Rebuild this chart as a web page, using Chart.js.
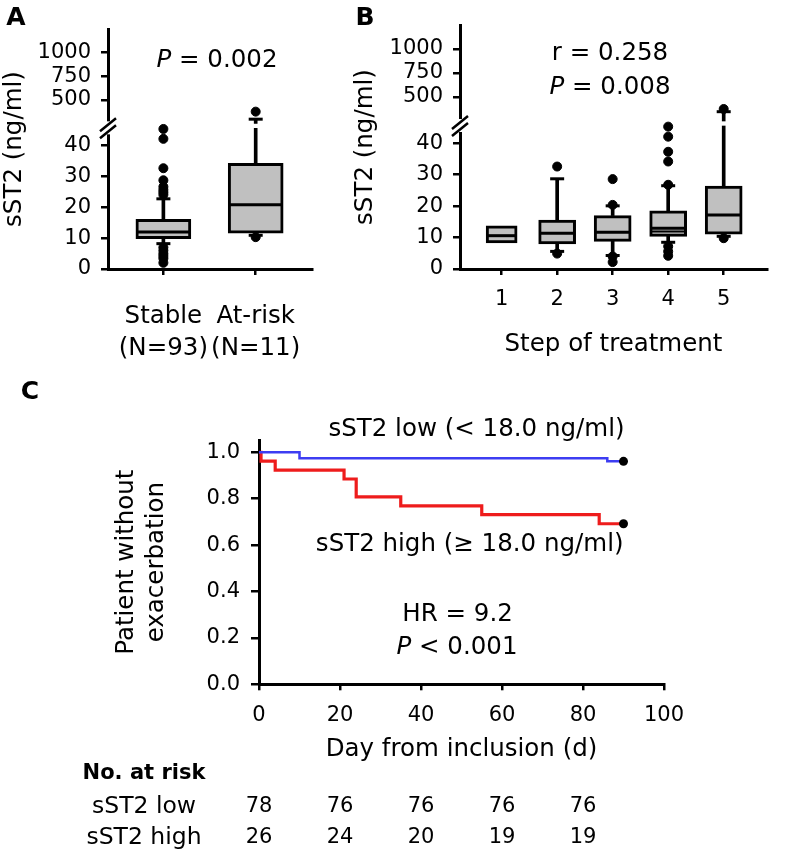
<!DOCTYPE html>
<html>
<head>
<meta charset="utf-8">
<script src="https://cdn.jsdelivr.net/npm/chart.js@4.4.1/dist/chart.umd.min.js"></script>
<style>
  html, body { margin: 0; padding: 0; background: #fff; }
  #figure { position: relative; width: 787px; height: 854px; overflow: hidden; }
  .panel { position: absolute; }
</style>
</head>
<body>
<div id="figure">
  <canvas class="panel" id="chartA" width="390" height="370" style="left:0;top:0"></canvas>
  <canvas class="panel" id="chartB" width="442" height="370" style="left:345px;top:0"></canvas>
  <canvas class="panel" id="chartC" width="787" height="474" style="left:0;top:380px"></canvas>
</div>
<script>
// ---- panel A: sST2 by clinical status ----
const groupsA = ['Stable', 'At-risk'];
const groupSizeA = ['(N=93)', '(N=11)'];
const q1A = [9.8, 11.6];
const medA = [12.0, 20.8];
const q3A = [16.1, 34.2];
const whiskerLowA = [8.2, 10.9];
const whiskerHighA = [22.7, 295];
const outliersA = [
  [45.3, 42.1, 32.6, 28.7, 26.6, 25.6, 24.8, 24.0, 7.0, 6.0, 5.0, 4.2, 3.4, 2.0],
  [375, 10.3]
];

// ---- panel B: sST2 by step of treatment ----
const stepsB = ['1', '2', '3', '4', '5'];
const q1B = [8.3, 8.0, 8.8, 10.4, 11.1];
const medB = [10.6, 11.4, 11.7, 13.0, 17.2];
const meanB = [null, null, null, 11.9, null];
const q3B = [13.7, 15.6, 17.0, 18.5, 26.4];
const whiskerLowB = [null, 5.6, 4.3, 8.5, 10.4];
const whiskerHighB = [null, 28.7, 20.1, 26.5, 347];
const outliersB = [
  [],
  [32.6, 4.9],
  [28.6, 20.4, 4.0, 2.2],
  [45.3, 42.1, 37.3, 34.2, 26.8, 7.2, 5.6, 4.2],
  [375, 9.8]
];

// broken y axis: tick labels of both segments
const lowerTicks = [0, 10, 20, 30, 40];
const upperTicks = [500, 750, 1000];

// ---- panel C: Kaplan-Meier ----
const daysLow = [0, 10, 86, 90];
const survLow = [1.0, 0.974, 0.961, 0.961];
const daysHigh = [0, 0.5, 4, 21, 24, 35, 55, 84, 90];
const survHigh = [1.0, 0.962, 0.923, 0.885, 0.808, 0.769, 0.731, 0.692, 0.692];
const dayTicks = [0, 20, 40, 60, 80, 100];
const survTicks = [0, 0.2, 0.4, 0.6, 0.8, 1.0];
const riskDays = [0, 20, 40, 60, 80];
const riskLow = [78, 76, 76, 76, 76];
const riskHigh = [26, 24, 20, 19, 19];

const FONT = '"DejaVu Sans", sans-serif';
Chart.defaults.font.family = FONT;
Chart.defaults.color = '#000';

const LOWER_TOP = 45.5;      // top of the lower segment
const UPPER_BOTTOM = 198;    // bottom of the upper segment
const UPPER_TOP = 1250;
const UPPER_START = 250;     // where marks resume above the break

const axisGrid = { drawOnChartArea: false, color: '#000', lineWidth: 2.5, tickLength: 7 };
const axisBorder = { color: '#000', width: 3 };

function boxplotDatasets(q1, med, q3, lo, hi, outs, widths, means) {
  const sets = [];
  const whiskUp = [], whiskDown = [], whiskBroken = [];
  const capsLow = [], capsHigh = [], dotsLow = [], dotsHigh = [];
  const medians = [], meanPts = [];
  q1.forEach((v, i) => {
    const x = i + 1;
    sets.push({
      type: 'bar', data: [{ x, y: [q1[i], q3[i]] }], yAxisID: 'y', clip: false,
      barThickness: widths[i], backgroundColor: '#c0c0c0', borderColor: '#000',
      borderWidth: 3, borderSkipped: false, grouped: false, order: 3
    });
    medians.push({ x, y: med[i] });
    if (means && means[i] != null) meanPts.push({ x, y: means[i] });
    if (hi[i] != null) {
      if (hi[i] > LOWER_TOP) {
        whiskUp.push({ x, y: [q3[i], LOWER_TOP] });
        whiskBroken.push({ x, y: [UPPER_START, hi[i]] });
        capsHigh.push({ x, y: hi[i] });
      } else {
        whiskUp.push({ x, y: [q3[i], hi[i]] });
        capsLow.push({ x, y: hi[i] });
      }
    }
    if (lo[i] != null) {
      whiskDown.push({ x, y: [lo[i], q1[i]] });
      capsLow.push({ x, y: lo[i] });
    }
    outs[i].forEach(o => (o > LOWER_TOP ? dotsHigh : dotsLow).push({ x, y: o }));
  });

  const whisker = (data, axis) => ({
    type: 'bar', data, yAxisID: axis, barThickness: 3, backgroundColor: '#000',
    borderWidth: 0, grouped: false, order: 4, clip: false
  });
  const marks = (data, axis, style, radius, order, bw) => ({
    type: 'line', data, yAxisID: axis, showLine: false, pointStyle: style,
    pointRadius: radius, pointBorderWidth: bw, pointBorderColor: '#000',
    pointBackgroundColor: '#000', order, clip: false
  });
  sets.push(whisker(whiskUp, 'y'), whisker(whiskDown, 'y'), whisker(whiskBroken, 'yu'));
  sets.push(marks(capsLow, 'y', 'line', 7, 2, 3), marks(capsHigh, 'yu', 'line', 7, 2, 3));
  sets.push(marks(medians, 'y', 'line', c => (widths[c.dataIndex] - 3) / 2, 1, 3));
  if (meanPts.length) sets.push(marks(meanPts, 'y', 'line', c => (widths[meanPts[c.dataIndex].x - 1] - 3) / 2, 1, 2));
  sets.push(marks(dotsLow, 'y', 'circle', 4.5, 0, 1), marks(dotsHigh, 'yu', 'circle', 4.5, 0, 1));
  return sets;
}

function brokenScales(yWidth) {
  const tickOpts = { font: { size: 21 }, padding: 10, color: '#000', autoSkip: false, callback: v => String(v) };
  return {
    y: {
      type: 'linear', position: 'left', stack: 'sst2', stackWeight: 143,
      min: 0, max: LOWER_TOP,
      afterBuildTicks: s => { s.ticks = lowerTicks.map(v => ({ value: v })); },
      afterFit: s => { s.width = yWidth; },
      ticks: tickOpts, grid: axisGrid, border: axisBorder
    },
    yu: {
      type: 'linear', position: 'left', stack: 'sst2', stackWeight: 101,
      min: UPPER_BOTTOM, max: UPPER_TOP,
      afterBuildTicks: s => { s.ticks = upperTicks.map(v => ({ value: v })); },
      afterFit: s => { s.width = yWidth; },
      ticks: tickOpts, grid: axisGrid, border: axisBorder
    }
  };
}

function richText(ctx, parts, cx, cy, size) {
  let total = 0;
  parts.forEach(p => {
    ctx.font = (p[1] ? 'italic ' : '') + size + 'px ' + FONT;
    total += ctx.measureText(p[0]).width;
  });
  let x = cx - total / 2;
  ctx.textAlign = 'left';
  ctx.textBaseline = 'middle';
  parts.forEach(p => {
    ctx.font = (p[1] ? 'italic ' : '') + size + 'px ' + FONT;
    ctx.fillText(p[0], x, cy);
    x += ctx.measureText(p[0]).width;
  });
}

// draws the axis break and the panel texts
function panelDecor(letter, letterX, notes) {
  return {
    id: 'decor' + letter,
    afterDraw(chart) {
      const ctx = chart.ctx;
      ctx.save();
      ctx.fillStyle = '#000';
      ctx.font = 'bold 25px ' + FONT;
      ctx.textAlign = 'center';
      ctx.textBaseline = 'middle';
      ctx.fillText(letter, letterX, 18);
      notes.forEach(n => richText(ctx, n.parts, n.x, n.y, 24.5));
      if (chart.scales.yu) {
        const jx = chart.chartArea.left;
        const jy = chart.scales.y.top;
        ctx.fillStyle = '#fff';
        ctx.fillRect(jx - 3, jy - 7, 6, 13);
        ctx.strokeStyle = '#000';
        ctx.lineWidth = 2.5;
        ctx.beginPath();
        ctx.moveTo(jx - 8, jy + 3); ctx.lineTo(jx + 8, jy - 10);
        ctx.moveTo(jx - 8, jy + 10); ctx.lineTo(jx + 8, jy - 3);
        ctx.stroke();
      }
      ctx.restore();
    }
  };
}

const leftTitle = (text, padTop, lineHeight) => ({
  display: true, text, position: 'left', fullSize: false, color: '#000',
  font: { size: 24.5, weight: 'normal', lineHeight }, padding: { top: padTop, bottom: 0 }
});

// ---------- panel A ----------
new Chart(document.getElementById('chartA'), {
  type: 'bar',
  data: { datasets: boxplotDatasets(q1A, medA, q3A, whiskerLowA, whiskerHighA, outliersA, [55, 55]) },
  options: {
    responsive: false, animation: false, events: [],
    layout: { padding: { left: 0, top: 25, right: 78, bottom: 0 } },
    plugins: { legend: { display: false }, tooltip: { enabled: false },
      title: leftTitle('sST2 (ng/ml)', 0, 1.2) },
    scales: Object.assign({
      x: {
        type: 'linear', min: 0.4, max: 2.61, offset: false,
        afterBuildTicks: s => { s.ticks = groupsA.map((g, i) => ({ value: i + 1 })); },
        afterFit: s => { s.height = 101; },
        ticks: { callback: v => [groupsA[v - 1], groupSizeA[v - 1]], font: { size: 24.5, lineHeight: 1.29 },
          padding: 26, color: '#000', autoSkip: false, maxRotation: 0 },
        grid: Object.assign({}, axisGrid, { tickLength: 6, offset: false }), border: axisBorder
      }
    }, brokenScales(108 - 29.4))
  },
  plugins: [panelDecor('A', 16, [{ parts: [['P', true], [' = 0.002', false]], x: 217, y: 61 }])]
});

// ---------- panel B ----------
new Chart(document.getElementById('chartB'), {
  type: 'bar',
  data: { datasets: boxplotDatasets(q1B, medB, q3B, whiskerLowB, whiskerHighB, outliersB, [31, 37, 37, 37, 37], meanB) },
  options: {
    responsive: false, animation: false, events: [],
    layout: { padding: { left: 0, top: 25, right: 2, bottom: 10.3 } },
    plugins: { legend: { display: false }, tooltip: { enabled: false },
      title: leftTitle('sST2 (ng/ml)', 6.3, 1.2) },
    scales: Object.assign({
      x: {
        type: 'linear', min: 0.25, max: 5.78, offset: false,
        afterBuildTicks: s => { s.ticks = stepsB.map((g, i) => ({ value: i + 1 })); },
        afterFit: s => { s.height = 90.7; },
        ticks: { callback: v => stepsB[v - 1], font: { size: 21 }, padding: 12.4,
          color: '#000', autoSkip: false, maxRotation: 0 },
        title: { display: true, text: 'Step of treatment', font: { size: 24.5 }, padding: 0, color: '#000' },
        grid: Object.assign({}, axisGrid, { tickLength: 6, offset: false }), border: axisBorder
      }
    }, brokenScales(115 - 29.4 - 6.3))
  },
  plugins: [panelDecor('B', 20, [
    { parts: [['r = 0.258', false]], x: 265, y: 54 },
    { parts: [['P', true], [' = 0.008', false]], x: 265, y: 88 }
  ])]
});

// ---------- panel C ----------
const kmDecor = {
  id: 'kmDecor',
  afterDraw(chart) {
    const ctx = chart.ctx;
    const xs = chart.scales.x;
    const endX = xs.getPixelForValue(90);
    ctx.save();
    ctx.fillStyle = '#000';
    ctx.textBaseline = 'middle';
    ctx.font = 'bold 25px ' + FONT;
    ctx.textAlign = 'center';
    ctx.fillText('C', 30, 12);
    ctx.font = '24.5px ' + FONT;
    ctx.textAlign = 'right';
    ctx.fillText('sST2 low (< 18.0 ng/ml)', endX + 1, 50);
    ctx.fillText('sST2 high (\u2265 18.0 ng/ml)', endX, 165);
    richText(ctx, [['HR = 9.2', false]], 457.5, 235, 24.5);
    richText(ctx, [['P', true], [' < 0.001', false]], 457, 268, 24.5);
    // number at risk table
    ctx.textAlign = 'center';
    ctx.font = 'bold 21px ' + FONT;
    ctx.fillText('No. at risk', 144, 394);
    ctx.font = '23.5px ' + FONT;
    ctx.fillText('sST2 low', 144, 427);
    ctx.fillText('sST2 high', 144, 458);
    ctx.font = '21px ' + FONT;
    riskDays.forEach((d, i) => {
      const px = xs.getPixelForValue(d);
      ctx.fillText(String(riskLow[i]), px, 427);
      ctx.fillText(String(riskHigh[i]), px, 458);
    });
    ctx.restore();
  }
};

const lastDot = n => c => (c.dataIndex === n - 1 ? 4.5 : 0);

new Chart(document.getElementById('chartC'), {
  type: 'line',
  data: {
    datasets: [
      { label: 'sST2 low', data: daysLow.map((d, i) => ({ x: d, y: survLow[i] })), stepped: true,
        borderColor: '#3d3df2', borderWidth: 2.5, pointRadius: lastDot(daysLow.length), clip: false,
        pointBackgroundColor: '#000', pointBorderColor: '#000', pointBorderWidth: 0 },
      { label: 'sST2 high', data: daysHigh.map((d, i) => ({ x: d, y: survHigh[i] })), stepped: true,
        borderColor: '#ee1c1c', borderWidth: 3.2, pointRadius: lastDot(daysHigh.length), clip: false,
        pointBackgroundColor: '#000', pointBorderColor: '#000', pointBorderWidth: 0 }
    ]
  },
  options: {
    responsive: false, animation: false, events: [],
    layout: { padding: { left: 0, top: 60, right: 123, bottom: 89.3 } },
    plugins: { legend: { display: false }, tooltip: { enabled: false },
      title: leftTitle(['Patient without', 'exacerbation'], 111, 1.25) },
    scales: {
      x: {
        type: 'linear', min: 0, max: 100,
        afterBuildTicks: s => { s.ticks = dayTicks.map(v => ({ value: v })); },
        afterFit: s => { s.height = 80.4; },
        ticks: { font: { size: 21 }, padding: 13, color: '#000', autoSkip: false },
        title: { display: true, text: 'Day from inclusion (d)', font: { size: 24.5 }, padding: 0, color: '#000' },
        grid: Object.assign({}, axisGrid, { tickLength: 6 }), border: axisBorder
      },
      y: {
        type: 'linear', min: 0, max: 1.053,
        afterBuildTicks: s => { s.ticks = survTicks.map(v => ({ value: v })); },
        afterFit: s => { s.width = 259 - (2 * 24.5 * 1.25 + 111); },
        ticks: { callback: v => v.toFixed(1), font: { size: 21 }, padding: 11, color: '#000', autoSkip: false },
        grid: Object.assign({}, axisGrid, { tickLength: 8 }), border: axisBorder
      }
    }
  },
  plugins: [kmDecor]
});
</script>
</body>
</html>
